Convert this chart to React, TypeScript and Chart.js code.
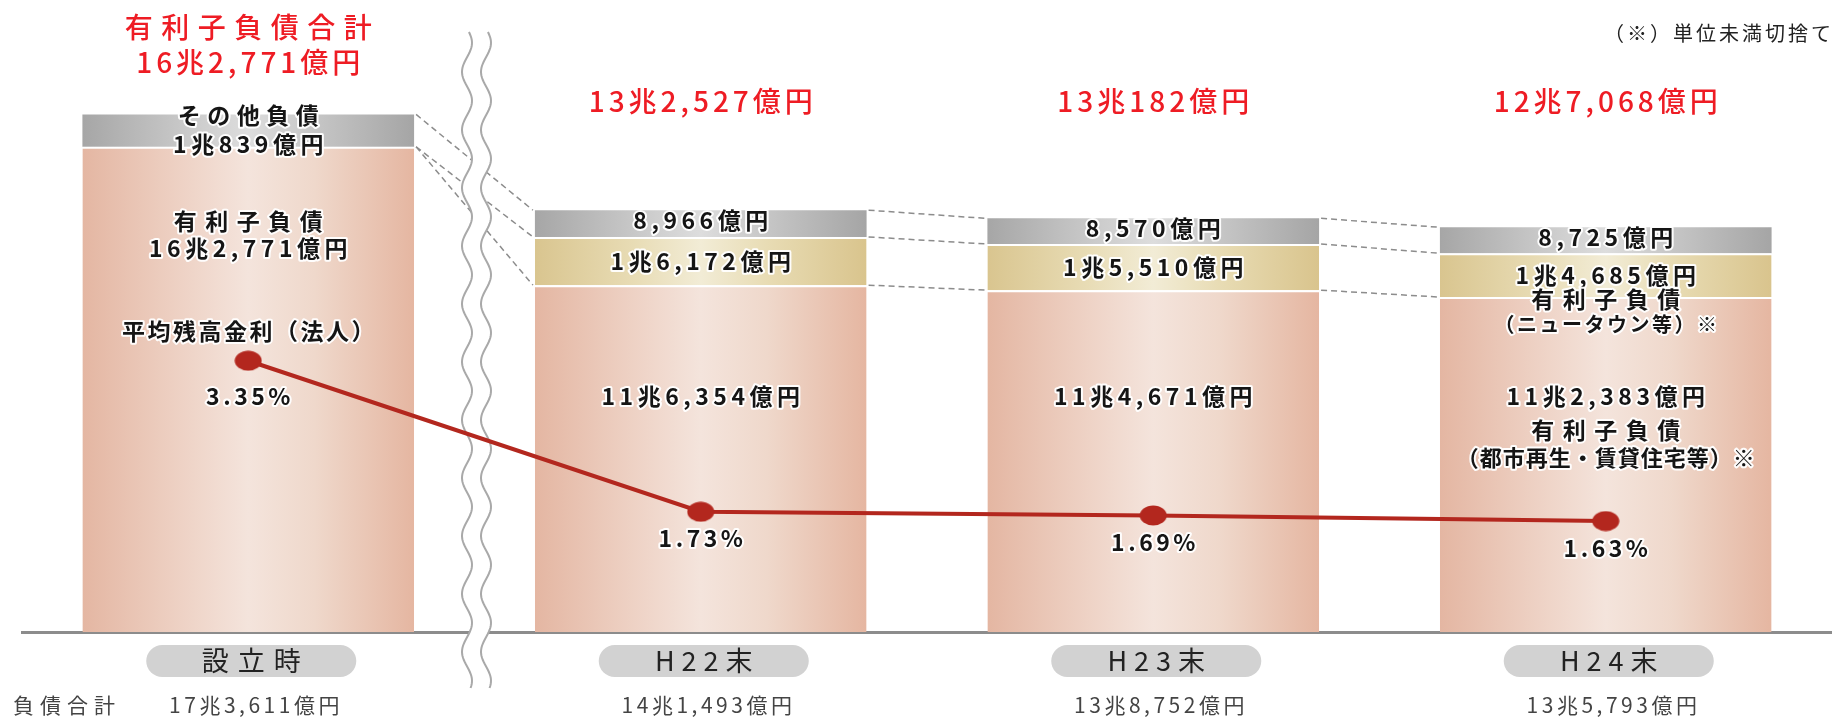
import React, { useEffect, useRef } from 'react';
import { Chart, registerables } from 'chart.js';

Chart.register(...registerables);

// ---- data ----
const categories = ['設立時', 'H22末', 'H23末', 'H24末'];
const debtUrbanRental = [162771, 116354, 114671, 112383]; // 有利子負債（都市再生・賃貸住宅等）
const debtNewTown = [0, 16172, 15510, 14685]; // 有利子負債（ニュータウン等）
const otherLiabilities = [10839, 8966, 8570, 8725]; // その他負債
const interestBearingTotal = [162771, 132527, 130182, 127068]; // 有利子負債合計
const liabilitiesTotal = [173611, 141493, 138752, 135793]; // 負債合計
const averageRate = [3.35, 1.73, 1.69, 1.63]; // 平均残高金利（法人）

const JP = '"Noto Sans CJK JP", "Noto Sans", sans-serif';

const fmtOku = (v: number) => {
  const cho = Math.floor(v / 10000);
  const oku = v % 10000;
  const okuStr = oku.toLocaleString('en-US');
  return cho > 0 ? `${cho}兆${okuStr}億円` : `${okuStr}億円`;
};

type TOpt = {
  size: number;
  weight?: number | string;
  color?: string;
  spacing?: number;
  align?: CanvasTextAlign;
  halo?: boolean;
};

function txt(ctx: CanvasRenderingContext2D, s: string, x: number, y: number, o: TOpt) {
  ctx.save();
  ctx.font = `${o.weight ?? 400} ${o.size}px ${JP}`;
  const sp = o.spacing ?? 0;
  (ctx as any).letterSpacing = `${sp}px`;
  const align = o.align ?? 'center';
  ctx.textAlign = align;
  ctx.textBaseline = 'middle';
  const dx = align === 'center' ? sp / 2 : align === 'right' ? sp : 0;
  if (o.halo) {
    ctx.lineWidth = 4;
    ctx.lineJoin = 'round';
    ctx.strokeStyle = 'rgba(255,255,255,0.95)';
    ctx.strokeText(s, x + dx, y);
  }
  ctx.fillStyle = o.color ?? '#111';
  ctx.fillText(s, x + dx, y);
  ctx.restore();
}

function roundRect(ctx: CanvasRenderingContext2D, x: number, y: number, w: number, h: number, r: number) {
  ctx.beginPath();
  ctx.moveTo(x + r, y);
  ctx.lineTo(x + w - r, y);
  ctx.arc(x + w - r, y + r, r, -Math.PI / 2, Math.PI / 2);
  ctx.lineTo(x + r, y + h);
  ctx.arc(x + r, y + r, r, Math.PI / 2, (3 * Math.PI) / 2);
  ctx.closePath();
}

const gradientFor = (stops: [number, string][], fallback: string) => (c: any) => {
  const chart = c.chart;
  if (!chart.chartArea || c.dataIndex === undefined) return fallback;
  const xs = chart.scales.x;
  const cx = xs.getPixelForValue(c.dataIndex);
  const half = 166;
  const g = chart.ctx.createLinearGradient(cx - half, 0, cx + half, 0);
  stops.forEach(([o, col]) => g.addColorStop(o, col));
  return g;
};

const pinkFill = gradientFor(
  [
    [0, '#e4b6a2'],
    [0.3, '#eed2c5'],
    [0.5, '#f4e4dc'],
    [0.7, '#efd8cb'],
    [1, '#e5b6a1'],
  ],
  '#ecccbd'
);
const goldFill = gradientFor(
  [
    [0, '#d9c58f'],
    [0.3, '#e8dcb5'],
    [0.5, '#f2ecd6'],
    [0.7, '#e8dcb4'],
    [1, '#d9c48d'],
  ],
  '#e6d8ad'
);
const grayFill = gradientFor(
  [
    [0, '#a6a6a6'],
    [0.3, '#c8c8c8'],
    [0.5, '#dddddd'],
    [0.7, '#c6c6c6'],
    [1, '#a5a5a5'],
  ],
  '#c0c0c0'
);

const decorPlugin = {
  id: 'decor',
  beforeDatasetsDraw(chart: any) {
    const ctx: CanvasRenderingContext2D = chart.ctx;
    const pink = chart.getDatasetMeta(0).data;
    const gold = chart.getDatasetMeta(1).data;
    const gray = chart.getDatasetMeta(2).data;
    // dashed connectors between bars
    ctx.save();
    ctx.strokeStyle = '#8c8c8c';
    ctx.lineWidth = 1.5;
    ctx.setLineDash([6, 4]);
    for (let j = 0; j < categories.length - 1; j++) {
      const a = pink[j];
      const b = pink[j + 1];
      const ax = a.x + a.width / 2 + 2;
      const bx = b.x - b.width / 2 - 2;
      const pairs = [
        [gray[j].y, gray[j + 1].y],
        [gold[j].y, gold[j + 1].y],
        [pink[j].y, pink[j + 1].y],
      ];
      pairs.forEach(([y0, y1]) => {
        ctx.beginPath();
        ctx.moveTo(ax, y0);
        ctx.lineTo(bx, y1);
        ctx.stroke();
      });
    }
    ctx.restore();

    // wavy break between 設立時 and H22末
    const xs = chart.scales.x;
    const mid = (xs.getPixelForValue(0) + xs.getPixelForValue(1)) / 2 + 2;
    const top = 32;
    const bottom = 688;
    const amp = 5;
    const period = 58;
    const waveX = (x0: number, y: number) => x0 + amp * Math.sin(((y - top) / period) * Math.PI * 2 + 0.4);
    const xl = mid - 9.5;
    const xr = mid + 9.5;
    ctx.save();
    ctx.beginPath();
    for (let y = top; y <= bottom; y += 2) ctx.lineTo(waveX(xl, y), y);
    for (let y = bottom; y >= top; y -= 2) ctx.lineTo(waveX(xr, y), y);
    ctx.closePath();
    ctx.fillStyle = '#ffffff';
    ctx.fill();
    ctx.strokeStyle = '#a9a9a9';
    ctx.lineWidth = 2;
    [xl, xr].forEach((x0) => {
      ctx.beginPath();
      for (let y = top; y <= bottom; y += 2) {
        if (y === top) ctx.moveTo(waveX(x0, y), y);
        else ctx.lineTo(waveX(x0, y), y);
      }
      ctx.stroke();
    });
    ctx.restore();
  },
  afterDatasetsDraw(chart: any) {
    const ctx: CanvasRenderingContext2D = chart.ctx;
    const area = chart.chartArea;
    const pink = chart.getDatasetMeta(0).data;
    const gold = chart.getDatasetMeta(1).data;
    const gray = chart.getDatasetMeta(2).data;
    const pts = chart.getDatasetMeta(3).data;
    const red = '#ee1c24';
    const lab: TOpt = { size: 23, weight: 700, spacing: 4.5, halo: true, color: '#151515' };
    const redOpt: TOpt = { size: 28, weight: 500, spacing: 4, color: red };

    for (let j = 0; j < categories.length; j++) {
      const cx = pink[j].x;
      if (j === 0) {
        txt(ctx, '有利子負債合計', cx, area.top + 27, { ...redOpt, spacing: 8.5 });
        txt(ctx, fmtOku(interestBearingTotal[j]), cx, area.top + 62, redOpt);
        txt(ctx, 'その他負債', cx, gray[j].y + 1, { ...lab, spacing: 6.5 });
        txt(ctx, fmtOku(otherLiabilities[j]), cx, gray[j].y + 30, lab);
        txt(ctx, '有利子負債', cx, pink[j].y + 75, { ...lab, spacing: 8.5 });
        txt(ctx, fmtOku(debtUrbanRental[j] + debtNewTown[j]), cx, pink[j].y + 102, lab);
      } else {
        txt(ctx, fmtOku(interestBearingTotal[j]), cx, area.top + 101, redOpt);
        txt(ctx, fmtOku(otherLiabilities[j]), cx, (gray[j].y + gray[j].base) / 2 - 3, lab);
        txt(ctx, fmtOku(debtNewTown[j]), cx, (gold[j].y + gold[j].base) / 2, lab);
        txt(ctx, fmtOku(debtUrbanRental[j]), cx, area.top + 396, lab);
      }
      if (j === categories.length - 1) {
        txt(ctx, '有利子負債', cx, pink[j].y + 2, { ...lab, spacing: 8.5 });
        txt(ctx, '（ニュータウン等）※', cx, pink[j].y + 27, { ...lab, size: 20, spacing: 2.5 });
        txt(ctx, '有利子負債', cx, area.top + 430, { ...lab, spacing: 8.5 });
        txt(ctx, '（都市再生・賃貸住宅等）※', cx, area.top + 458, { ...lab, size: 22, spacing: 1 });
      }
      // rate labels
      const p = pts[j];
      if (j === 0) txt(ctx, '平均残高金利（法人）', p.x, p.y - 29, { ...lab, spacing: 2.5 });
      txt(ctx, `${averageRate[j].toFixed(2)}%`, p.x, p.y + (j === 0 ? 36 : 27), { ...lab, spacing: 3.5 });

      // category pill
      const px = cx + 3;
      const py = area.bottom + 29;
      ctx.save();
      roundRect(ctx, px - 105, py - 16, 210, 32, 16);
      ctx.fillStyle = '#d2d2d2';
      ctx.fill();
      ctx.restore();
      txt(ctx, categories[j], px, py, { size: 27, weight: 400, spacing: j === 0 ? 9 : 7, color: '#222' });

      // 負債合計 row
      txt(ctx, fmtOku(liabilitiesTotal[j]), cx + 6, area.bottom + 73, { size: 21, weight: 400, spacing: 3.5, color: '#444' });
    }
    txt(ctx, '負債合計', 13, area.bottom + 73, { size: 21, weight: 400, spacing: 6, color: '#444', align: 'left' });
    txt(ctx, '（※）単位未満切捨て', 1831, 33, { size: 20, weight: 400, spacing: 3, color: '#222', align: 'right' });
  },
};

export default function App() {
  const ref = useRef<HTMLCanvasElement | null>(null);

  useEffect(() => {
    const canvas = ref.current;
    if (!canvas) return;

    const dot = document.createElement('canvas');
    dot.width = 28;
    dot.height = 21;
    const dctx = dot.getContext('2d')!;
    dctx.fillStyle = '#b3271e';
    dctx.beginPath();
    dctx.ellipse(14, 10.5, 13.5, 10, 0, 0, Math.PI * 2);
    dctx.fill();

    Chart.defaults.font.family = JP;

    const chart = new Chart(canvas, {
      type: 'bar',
      data: {
        labels: categories,
        datasets: [
          {
            type: 'bar',
            label: '有利子負債（都市再生・賃貸住宅等）',
            data: debtUrbanRental,
            backgroundColor: pinkFill as any,
            borderColor: '#ffffff',
            borderWidth: { top: 2, left: 0, right: 0, bottom: 0 } as any,
            borderSkipped: false,
            stack: 's',
            order: 1,
          },
          {
            type: 'bar',
            label: '有利子負債（ニュータウン等）',
            data: debtNewTown,
            backgroundColor: goldFill as any,
            borderColor: '#ffffff',
            borderWidth: { top: 2, left: 0, right: 0, bottom: 0 } as any,
            borderSkipped: false,
            stack: 's',
            order: 1,
          },
          {
            type: 'bar',
            label: 'その他負債',
            data: otherLiabilities,
            backgroundColor: grayFill as any,
            borderWidth: 0,
            stack: 's',
            order: 1,
          },
          {
            type: 'line',
            label: '平均残高金利（法人）',
            data: averageRate,
            yAxisID: 'y1',
            borderColor: '#b3271e',
            borderWidth: 4,
            pointStyle: dot as any,
            pointRadius: 10,
            pointHoverRadius: 10,
            tension: 0,
            clip: false,
            order: 0,
          } as any,
        ],
      },
      options: {
        responsive: false,
        animation: false,
        layout: { autoPadding: false, padding: { left: 22, right: 0, top: 0, bottom: 86 } },
        datasets: {
          bar: { categoryPercentage: 1, barPercentage: 0.733 },
        },
        plugins: {
          legend: { display: false },
          tooltip: { enabled: false },
          title: { display: false },
        },
        scales: {
          x: {
            stacked: true,
            grid: { display: false, drawTicks: false },
            ticks: { display: false },
            border: { display: true, color: '#8c8c8c', width: 3 },
          },
          y: {
            stacked: true,
            display: false,
            min: 0,
            max: 212000,
          },
          y1: {
            display: false,
            position: 'right',
            min: 0.44,
            max: 7.22,
          },
        },
      } as any,
      plugins: [decorPlugin],
    });

    return () => chart.destroy();
  }, []);

  return (
    <div style={{ position: 'fixed', left: 0, top: 0, width: 1832, height: 718, background: '#fff' }}>
      <canvas ref={ref} width={1832} height={718} style={{ display: 'block' }} />
    </div>
  );
}
